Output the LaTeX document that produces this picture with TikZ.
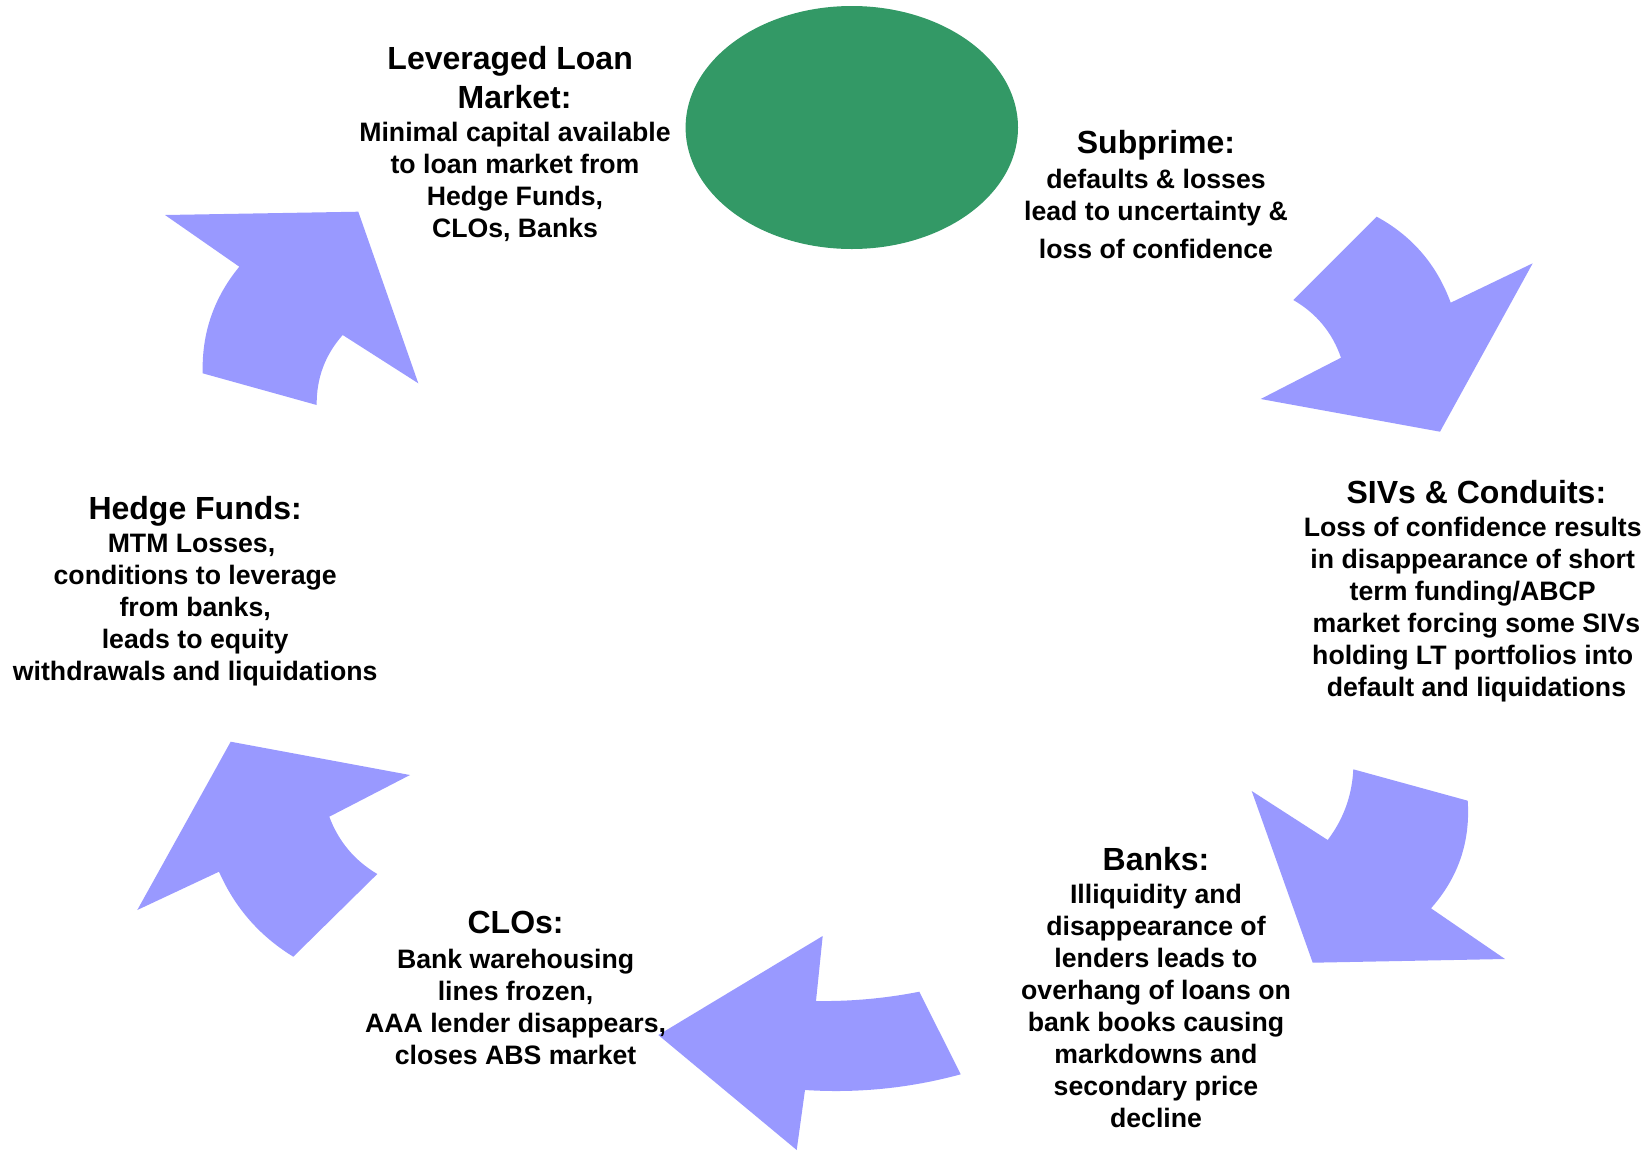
\documentclass[tikz,border=0pt]{standalone}
\usepackage{fontspec}
\setmainfont{Liberation Sans}
\usetikzlibrary{shapes.geometric}
\definecolor{arrowblue}{HTML}{9999FF}
\definecolor{hubgreen}{HTML}{339966}
\tikzset{
  blockarrow/.style={fill=arrowblue, draw=none},
  titletext/.style={align=center, inner sep=0pt, font=\bfseries\fontsize{32}{38.4}\selectfont},
  bodytext/.style={align=center, inner sep=0pt, font=\bfseries\fontsize{26.67}{32}\selectfont},
}
\newcommand{\padsp}{\hspace*{0.278em}}
\begin{document}
\begin{tikzpicture}[x=1pt, y=-1pt]
\useasboundingbox (0,0) rectangle (1650,1152);

% central green ellipse
\node[ellipse, fill=hubgreen, draw=none, inner sep=0pt, minimum width=332.4pt, minimum height=243pt] (hub) at (851.8,127.5) {};

% curved block arrows
\fill[blockarrow] (202.7,373.3) .. controls (201.6,333.2) and (213.8,297.7) .. (239.3,266.7) -- (165,215) -- (358.3,211.7) -- (418.3,383.3) -- (342.7,335) .. controls (325.0,355.0) and (316.4,378.3) .. (316.7,405) -- cycle;
\fill[blockarrow] (1376.7,216.7) .. controls (1412.2,236.0) and (1436.8,264.7) .. (1450.7,302.7) -- (1532.7,263.3) -- (1440,431.7) -- (1260.7,399) -- (1341,357.7) .. controls (1332.3,332.6) and (1316.4,313.3) .. (1293.3,300) -- cycle;
\fill[blockarrow] (1467.7,800.7) .. controls (1470.5,841.7) and (1458.3,877.6) .. (1431,908.3) -- (1505,959) -- (1312.7,962.7) -- (1251.7,791) -- (1327.7,840) .. controls (1343.5,819.1) and (1352.0,795.6) .. (1353.3,769.3) -- cycle;
\fill[blockarrow] (960.7,1074.3) .. controls (909.7,1088.2) and (857.8,1093.4) .. (805,1090) -- (796.7,1150) -- (658.3,1035) -- (822.7,936) -- (816,1001) .. controls (850.8,1001.5) and (885.2,998.4) .. (919.3,991.7) -- cycle;
\fill[blockarrow] (293.3,956.7) .. controls (259.7,936.1) and (234.9,907.8) .. (219,871.7) -- (137.3,910) -- (230.7,741.7) -- (410,775) -- (329.3,816.7) .. controls (338.6,841.5) and (354.6,860.6) .. (377.3,874) -- cycle;

% Leveraged Loan Market
\node[titletext] (levT) at (514.6,77.4) {Leveraged Loan\padsp\\Market:};
\node[bodytext] (levB) at (515,181.4) {Minimal capital available\\to loan market from\padsp\\Hedge Funds,\\CLOs, Banks};

% Subprime
\node[titletext] (subT) at (1156,145) {Subprime:};
\node[bodytext] (subB) at (1156,214.2) {defaults \& losses\\lead to uncertainty \&\\[6pt]loss of confidence};

% SIVs & Conduits
\node[titletext] (sivT) at (1476.4,492.5) {SIVs \& Conduits:};
\node[bodytext] (sivB) at (1472.7,609.2) {Loss of confidence results\\in disappearance of short\\term funding/ABCP\\\padsp market forcing some SIVs\\holding LT portfolios into\\\padsp default and liquidations};

% Banks
\node[titletext] (bankT) at (1156,858.7) {Banks:};
\node[bodytext] (bankB) at (1156,1006) {Illiquidity and\\disappearance of\\lenders leads to\\overhang of loans on\\bank books causing\\markdowns and\\secondary price\\decline};

% CLOs
\node[titletext] (cloT) at (515.6,922.9) {CLOs:};
\node[bodytext] (cloB) at (515.6,1006.5) {Bank warehousing\\lines frozen,\\AAA lender disappears,\padsp\\closes ABS market};

% Hedge Funds
\node[titletext] (hfT) at (195.2,511.3) {Hedge Funds:};
\node[bodytext] (hfB) at (195.2,609.7) {MTM Losses,\padsp\\conditions to leverage\padsp\\from banks,\padsp\\leads to equity\padsp\\withdrawals and liquidations};
\end{tikzpicture}
\end{document}
